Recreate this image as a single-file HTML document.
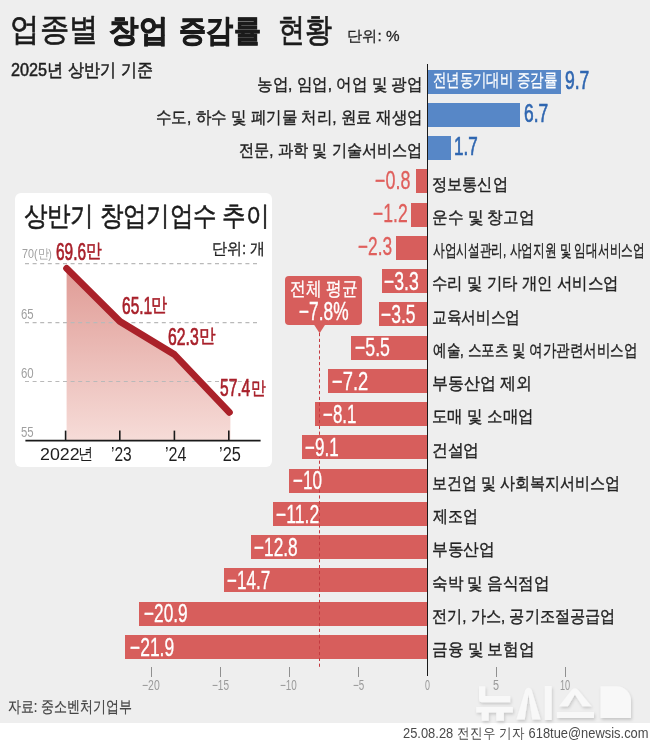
<!DOCTYPE html>
<html><head><meta charset="utf-8">
<style>
*{margin:0;padding:0;box-sizing:border-box}
html,body{width:650px;height:745px;background:#fff;overflow:hidden}
body{position:relative;font-family:"Liberation Sans",sans-serif}
.t{position:absolute;white-space:nowrap;line-height:1.2;transform-origin:0 0}
.bg{position:absolute;left:0;top:0;width:650px;height:722.6px;background:#eeeeee}
.bar{position:absolute;height:24px}
.axis{position:absolute;left:426.6px;top:64.2px;width:1.5px;height:612.3px;background:#1a1a1a}
.tick{position:absolute;top:667px;width:1px;height:9.5px;background:#8f8f8f}
.card{position:absolute;left:15px;top:193.4px;width:256.5px;height:274px;background:#fff;border-radius:6px}
.callout{position:absolute;left:284.8px;top:276.2px;width:76.9px;height:48.5px;background:#d75e5c;border-radius:4px}
svg{position:absolute;left:0;top:0}
</style></head><body>
<div class="bg"></div>
<div class="card"></div>
<svg width="650" height="745" viewBox="0 0 650 745">
  <defs>
    <linearGradient id="ag" x1="0" y1="263" x2="0" y2="441" gradientUnits="userSpaceOnUse">
      <stop offset="0" stop-color="#df9993"/>
      <stop offset="1" stop-color="#f6dcd8"/>
    </linearGradient>
  </defs>

  <polygon points="66.6,440.5 66.6,268.3 120.0,321.5 174.4,354.5 229.4,412.4 230.4,412.4 230.4,440.5" fill="url(#ag)"/>
  <g stroke="#b9b9b9" stroke-width="1.1" stroke-dasharray="4,3.6">
    <line x1="25" y1="263.6" x2="260.5" y2="263.6"/>
    <line x1="25" y1="322.6" x2="260.5" y2="322.6"/>
    <line x1="25" y1="381.5" x2="260.5" y2="381.5"/>
  </g>
  <polyline points="66.6,268.3 120.0,321.5 174.4,354.5 229.4,412.4" fill="none" stroke="#aa2129" stroke-width="6.8" stroke-linecap="round" stroke-linejoin="round"/>
  <line x1="25.4" y1="440.7" x2="260.6" y2="440.7" stroke="#1a1a1a" stroke-width="1.8"/>
  <g stroke="#1a1a1a" stroke-width="1.6">
    <line x1="65.6" y1="430.6" x2="65.6" y2="440"/>
    <line x1="119.8" y1="430.6" x2="119.8" y2="440"/>
    <line x1="174.4" y1="430.6" x2="174.4" y2="440"/>
    <line x1="228.8" y1="430.6" x2="228.8" y2="440"/>
  </g>
</svg>
<div class="bar" style="left:427.30px;top:69.60px;width:133.96px;background:#5787c7"></div>
<div class="bar" style="left:427.30px;top:102.85px;width:92.53px;background:#5787c7"></div>
<div class="bar" style="left:427.30px;top:136.10px;width:23.48px;background:#5787c7"></div>
<div class="bar" style="left:416.25px;top:169.35px;width:11.05px;background:#d75e5c"></div>
<div class="bar" style="left:410.73px;top:202.60px;width:16.57px;background:#d75e5c"></div>
<div class="bar" style="left:395.54px;top:235.85px;width:31.76px;background:#d75e5c"></div>
<div class="bar" style="left:381.73px;top:269.10px;width:45.57px;background:#d75e5c"></div>
<div class="bar" style="left:378.97px;top:302.35px;width:48.34px;background:#d75e5c"></div>
<div class="bar" style="left:351.35px;top:335.60px;width:75.95px;background:#d75e5c"></div>
<div class="bar" style="left:327.87px;top:368.85px;width:99.43px;background:#d75e5c"></div>
<div class="bar" style="left:315.44px;top:402.10px;width:111.86px;background:#d75e5c"></div>
<div class="bar" style="left:301.63px;top:435.35px;width:125.67px;background:#d75e5c"></div>
<div class="bar" style="left:289.20px;top:468.60px;width:138.10px;background:#d75e5c"></div>
<div class="bar" style="left:272.63px;top:501.85px;width:154.67px;background:#d75e5c"></div>
<div class="bar" style="left:250.53px;top:535.10px;width:176.77px;background:#d75e5c"></div>
<div class="bar" style="left:224.29px;top:568.35px;width:203.01px;background:#d75e5c"></div>
<div class="bar" style="left:138.67px;top:601.60px;width:288.63px;background:#d75e5c"></div>
<div class="bar" style="left:124.86px;top:634.85px;width:302.44px;background:#d75e5c"></div>
<div class="axis"></div>
<svg width="650" height="745" viewBox="0 0 650 745">
  <line x1="319.5" y1="333" x2="319.5" y2="669" stroke="#c43a40" stroke-width="1" stroke-dasharray="3.2,2.6"/>
</svg>
<div class="callout"></div>
<svg width="650" height="745" viewBox="0 0 650 745">
  <polygon points="313.6,324 325.6,324 319.6,333.2" fill="#d75e5c"/>
</svg>
<div class="tick" style="left:151px"></div>
<div class="tick" style="left:220px"></div>
<div class="tick" style="left:289px"></div>
<div class="tick" style="left:358px"></div>
<div class="tick" style="left:496px"></div>
<div class="tick" style="left:565px"></div>
<svg width="650" height="745" viewBox="0 0 650 745">
  <defs>
    <filter id="sh" x="-10%" y="-10%" width="130%" height="140%">
      <feGaussianBlur in="SourceAlpha" stdDeviation="1.4"/>
      <feOffset dx="0.5" dy="1.5" result="b"/>
      <feFlood flood-color="#000" flood-opacity="0.16"/>
      <feComposite in2="b" operator="in"/>
      <feMerge><feMergeNode/><feMergeNode in="SourceGraphic"/></feMerge>
    </filter>
  </defs>
  <g fill="#f8f8f8" filter="url(#sh)">
    <path d="M479,686.2 H485.2 V696 H510.2 V702.2 H482.2 A3.2,3.2 0 0 1 479,699 Z"/>
    <path d="M476.2,707 H512.9 V712.5 H503.9 V720.8 H496.3 V712.5 H488.7 V720.8 H481.8 V712.5 H476.2 Z"/>
    <path d="M516.4,719.5 L525.3,690 Q528.5,685.5 531.7,690 L540.6,719.5 H532.3 L528.5,694.5 L524.7,719.5 Z"/>
    <path d="M544.8,686 H551.7 V720 H544.8 Z"/>
    <path d="M559,706.3 L571.2,690.5 Q574.9,686 578.6,690.5 L591.5,706.3 H582.5 L574.9,694.5 L568,706.3 Z"/>
    <path d="M556.9,712.1 H594 V718.1 H556.9 Z"/>
    <path d="M600.5,686.2 H616.5 A14.5,14.5 0 0 1 631,700.7 V718.1 H600.5 Z"/>
  </g>
</svg>
<div class="t" style="left:9.98px;top:10.28px;font-size:34px;color:#1b1b1b;-webkit-text-stroke:0.7px #1b1b1b;transform:scale(0.8737,0.9531)">업종별</div>
<div class="t" style="left:108.82px;top:11.38px;font-size:34px;color:#1b1b1b;font-weight:bold;-webkit-text-stroke:0.9px #1b1b1b;transform:scale(0.8778,0.9242)">창업</div>
<div class="t" style="left:178.99px;top:11.38px;font-size:34px;color:#1b1b1b;font-weight:bold;-webkit-text-stroke:0.9px #1b1b1b;transform:scale(0.8060,0.9242)">증감률</div>
<div class="t" style="left:278.08px;top:10.10px;font-size:34px;color:#1b1b1b;-webkit-text-stroke:0.7px #1b1b1b;transform:scale(0.8076,0.9839)">현황</div>
<div class="t" style="left:346.68px;top:26.78px;font-size:15px;color:#222;-webkit-text-stroke:0.25px #222;transform:scale(1.0200,1.0077)">단위: %</div>
<div class="t" style="left:10.95px;top:60.49px;font-size:19px;color:#1e1e1e;-webkit-text-stroke:0.55px #1e1e1e;transform:scale(0.8533,0.9556)">2025년 상반기 기준</div>
<div class="t" style="left:256.84px;top:74.82px;font-size:18px;color:#222;-webkit-text-stroke:0.4px #222;transform:scale(0.8619,0.9412)">농업, 임업, 어업 및 광업</div>
<div class="t" style="left:565.00px;top:65.77px;font-size:22px;color:#2f66b0;-webkit-text-stroke:0.6px #2f66b0;transform:scale(0.7966,1.1467)">9.7</div>
<div class="t" style="left:155.64px;top:108.07px;font-size:18px;color:#222;-webkit-text-stroke:0.4px #222;transform:scale(0.8603,0.9412)">수도, 하수 및 폐기물 처리, 원료 재생업</div>
<div class="t" style="left:523.71px;top:99.02px;font-size:22px;color:#2f66b0;-webkit-text-stroke:0.6px #2f66b0;transform:scale(0.7897,1.1467)">6.7</div>
<div class="t" style="left:238.76px;top:141.32px;font-size:18px;color:#222;-webkit-text-stroke:0.4px #222;transform:scale(0.8419,0.9412)">전문, 과학 및 기술서비스업</div>
<div class="t" style="left:453.52px;top:132.27px;font-size:22px;color:#2f66b0;-webkit-text-stroke:0.6px #2f66b0;transform:scale(0.7759,1.1467)">1.7</div>
<div class="t" style="left:432.46px;top:174.57px;font-size:18px;color:#222;-webkit-text-stroke:0.4px #222;transform:scale(0.8414,0.9412)">정보통신업</div>
<div class="t" style="left:375.19px;top:165.82px;font-size:22px;color:#df5f5c;-webkit-text-stroke:0.3px #df5f5c;transform:scale(0.8143,1.1467)">−0.8</div>
<div class="t" style="left:432.43px;top:207.82px;font-size:18px;color:#222;-webkit-text-stroke:0.4px #222;transform:scale(0.8661,0.9412)">운수 및 창고업</div>
<div class="t" style="left:372.70px;top:199.07px;font-size:22px;color:#df5f5c;-webkit-text-stroke:0.3px #df5f5c;transform:scale(0.8000,1.1467)">−1.2</div>
<div class="t" style="left:432.65px;top:241.07px;font-size:18px;color:#222;-webkit-text-stroke:0.4px #222;transform:scale(0.6489,0.9412)">사업시설관리, 사업지원 및 임대서비스업</div>
<div class="t" style="left:358.41px;top:232.32px;font-size:22px;color:#df5f5c;-webkit-text-stroke:0.3px #df5f5c;transform:scale(0.7857,1.1467)">−2.3</div>
<div class="t" style="left:432.45px;top:274.32px;font-size:18px;color:#222;-webkit-text-stroke:0.4px #222;transform:scale(0.8544,0.9412)">수리 및 기타 개인 서비스업</div>
<div class="t" style="left:383.80px;top:266.77px;font-size:22px;color:#ffffff;-webkit-text-stroke:0.3px #fff;transform:scale(0.8000,1.1467)">−3.3</div>
<div class="t" style="left:432.48px;top:307.57px;font-size:18px;color:#222;-webkit-text-stroke:0.4px #222;transform:scale(0.8152,0.9412)">교육서비스업</div>
<div class="t" style="left:381.21px;top:300.02px;font-size:22px;color:#ffffff;-webkit-text-stroke:0.3px #fff;transform:scale(0.7929,1.1467)">−3.5</div>
<div class="t" style="left:432.55px;top:340.82px;font-size:18px;color:#222;-webkit-text-stroke:0.4px #222;transform:scale(0.7502,0.9412)">예술, 스포츠 및 여가관련서비스업</div>
<div class="t" style="left:355.00px;top:333.27px;font-size:22px;color:#ffffff;-webkit-text-stroke:0.3px #fff;transform:scale(0.8048,1.1467)">−5.5</div>
<div class="t" style="left:432.42px;top:374.07px;font-size:18px;color:#222;-webkit-text-stroke:0.4px #222;transform:scale(0.8836,0.9412)">부동산업 제외</div>
<div class="t" style="left:332.27px;top:366.52px;font-size:22px;color:#ffffff;-webkit-text-stroke:0.3px #fff;transform:scale(0.8341,1.1467)">−7.2</div>
<div class="t" style="left:432.44px;top:407.32px;font-size:18px;color:#222;-webkit-text-stroke:0.4px #222;transform:scale(0.8600,0.9412)">도매 및 소매업</div>
<div class="t" style="left:323.23px;top:399.77px;font-size:22px;color:#ffffff;-webkit-text-stroke:0.3px #fff;transform:scale(0.7707,1.1467)">−8.1</div>
<div class="t" style="left:431.55px;top:440.57px;font-size:18px;color:#222;-webkit-text-stroke:0.4px #222;transform:scale(0.8740,0.9412)">건설업</div>
<div class="t" style="left:305.42px;top:433.02px;font-size:22px;color:#ffffff;-webkit-text-stroke:0.3px #fff;transform:scale(0.7756,1.1467)">−9.1</div>
<div class="t" style="left:432.47px;top:473.82px;font-size:18px;color:#222;-webkit-text-stroke:0.4px #222;transform:scale(0.8336,0.9412)">보건업 및 사회복지서비스업</div>
<div class="t" style="left:293.22px;top:466.27px;font-size:22px;color:#ffffff;-webkit-text-stroke:0.3px #fff;transform:scale(0.7771,1.1467)">−10</div>
<div class="t" style="left:433.30px;top:507.07px;font-size:18px;color:#222;-webkit-text-stroke:0.4px #222;transform:scale(0.8288,0.9412)">제조업</div>
<div class="t" style="left:276.40px;top:499.52px;font-size:22px;color:#ffffff;-webkit-text-stroke:0.3px #fff;transform:scale(0.8000,1.1467)">−11.2</div>
<div class="t" style="left:432.43px;top:540.32px;font-size:18px;color:#222;-webkit-text-stroke:0.4px #222;transform:scale(0.8696,0.9412)">부동산업</div>
<div class="t" style="left:254.41px;top:532.77px;font-size:22px;color:#ffffff;-webkit-text-stroke:0.3px #fff;transform:scale(0.7852,1.1467)">−12.8</div>
<div class="t" style="left:432.44px;top:573.57px;font-size:18px;color:#222;-webkit-text-stroke:0.4px #222;transform:scale(0.8632,0.9412)">숙박 및 음식점업</div>
<div class="t" style="left:227.02px;top:566.02px;font-size:22px;color:#ffffff;-webkit-text-stroke:0.3px #fff;transform:scale(0.7778,1.1467)">−14.7</div>
<div class="t" style="left:432.46px;top:606.82px;font-size:18px;color:#222;-webkit-text-stroke:0.4px #222;transform:scale(0.8409,0.9412)">전기, 가스, 공기조절공급업</div>
<div class="t" style="left:143.81px;top:599.27px;font-size:22px;color:#ffffff;-webkit-text-stroke:0.3px #fff;transform:scale(0.7852,1.1467)">−20.9</div>
<div class="t" style="left:432.43px;top:640.07px;font-size:18px;color:#222;-webkit-text-stroke:0.4px #222;transform:scale(0.8661,0.9412)">금융 및 보험업</div>
<div class="t" style="left:129.81px;top:632.52px;font-size:22px;color:#ffffff;-webkit-text-stroke:0.3px #fff;transform:scale(0.7926,1.1467)">−21.9</div>
<div class="t" style="left:432.63px;top:70.15px;font-size:17px;color:#fff;-webkit-text-stroke:0.25px #fff;transform:scale(0.7857,1.0500)">전년동기대비 증감률</div>
<div class="t" style="left:289.93px;top:278.39px;font-size:17px;color:#fff;-webkit-text-stroke:0.3px #fff;transform:scale(0.9368,1.1357)">전체 평균</div>
<div class="t" style="left:298.58px;top:296.09px;font-size:21px;color:#fff;-webkit-text-stroke:0.35px #fff;transform:scale(0.8241,1.1857)">−7.8%</div>
<div class="t" style="left:142.30px;top:676.67px;font-size:13px;color:#9a9a9a;transform:scale(0.8048,1.1111)">−20</div>
<div class="t" style="left:211.53px;top:676.67px;font-size:13px;color:#9a9a9a;transform:scale(0.7714,1.1111)">−15</div>
<div class="t" style="left:280.24px;top:676.67px;font-size:13px;color:#9a9a9a;transform:scale(0.7619,1.1111)">−10</div>
<div class="t" style="left:352.85px;top:676.67px;font-size:13px;color:#9a9a9a;transform:scale(0.7538,1.1111)">−5</div>
<div class="t" style="left:425.00px;top:676.67px;font-size:13px;color:#9a9a9a;transform:scale(0.6857,1.1111)">0</div>
<div class="t" style="left:493.17px;top:676.67px;font-size:13px;color:#9a9a9a;transform:scale(0.8333,1.1111)">5</div>
<div class="t" style="left:560.49px;top:676.67px;font-size:13px;color:#9a9a9a;transform:scale(0.7077,1.1111)">10</div>
<div class="t" style="left:24.23px;top:199.57px;font-size:30px;color:#1b1b1b;-webkit-text-stroke:0.6px #1b1b1b;transform:scale(0.7731,0.8857)">상반기 창업기업수 추이</div>
<div class="t" style="left:212.06px;top:239.00px;font-size:16px;color:#222;-webkit-text-stroke:0.3px #222;transform:scale(0.9407,1.0000)">단위: 개</div>
<div class="t" style="left:21.83px;top:245.60px;font-size:14px;color:#a0a0a0;transform:scale(0.7676,0.9000)">70(만)</div>
<div class="t" style="left:21.19px;top:304.82px;font-size:14px;color:#a0a0a0;transform:scale(0.8143,1.0600)">65</div>
<div class="t" style="left:21.19px;top:363.82px;font-size:14px;color:#a0a0a0;transform:scale(0.8143,1.0600)">60</div>
<div class="t" style="left:21.19px;top:423.54px;font-size:14px;color:#a0a0a0;transform:scale(0.8143,1.0200)">55</div>
<div class="t" style="left:55.96px;top:236.79px;font-size:21px;color:#a8202a;-webkit-text-stroke:0.6px #a8202a;transform:scale(0.7359,1.1357)">69.6</div>
<div class="t" style="left:85.98px;top:239.36px;font-size:21px;color:#a8202a;-webkit-text-stroke:0.6px #a8202a;transform:scale(0.7579,0.9105)">만</div>
<div class="t" style="left:121.76px;top:291.33px;font-size:21px;color:#a8202a;-webkit-text-stroke:0.6px #a8202a;transform:scale(0.7385,1.1286)">65.1</div>
<div class="t" style="left:151.44px;top:293.14px;font-size:21px;color:#a8202a;-webkit-text-stroke:0.6px #a8202a;transform:scale(0.7789,0.9158)">만</div>
<div class="t" style="left:168.45px;top:321.63px;font-size:21px;color:#a8202a;-webkit-text-stroke:0.6px #a8202a;transform:scale(0.7513,1.1286)">62.3</div>
<div class="t" style="left:198.64px;top:324.44px;font-size:21px;color:#a8202a;-webkit-text-stroke:0.6px #a8202a;transform:scale(0.7789,0.8895)">만</div>
<div class="t" style="left:220.16px;top:374.07px;font-size:21px;color:#a8202a;-webkit-text-stroke:0.6px #a8202a;transform:scale(0.7400,1.1214)">57.4</div>
<div class="t" style="left:250.77px;top:376.93px;font-size:21px;color:#a8202a;-webkit-text-stroke:0.6px #a8202a;transform:scale(0.7158,0.8684)">만</div>
<div class="t" style="left:40.01px;top:445.92px;font-size:18px;color:#1e1e1e;transform:scale(0.9895,0.8923)">2022</div>
<div class="t" style="left:78.29px;top:445.20px;font-size:18px;color:#1e1e1e;transform:scale(0.8571,0.9000)">년</div>
<div class="t" style="left:111.14px;top:443.77px;font-size:18px;color:#1e1e1e;transform:scale(0.8636,1.0769)">’23</div>
<div class="t" style="left:165.10px;top:443.77px;font-size:18px;color:#1e1e1e;transform:scale(0.8957,1.0769)">’24</div>
<div class="t" style="left:219.09px;top:443.77px;font-size:18px;color:#1e1e1e;transform:scale(0.9091,1.0769)">’25</div>
<div class="t" style="left:8.34px;top:696.82px;font-size:15px;color:#444;-webkit-text-stroke:0.2px #444;transform:scale(0.8624,1.0615)">자료: 중소벤처기업부</div>
<div class="t" style="left:403.14px;top:725.12px;font-size:15px;color:#4a4a4a;transform:scale(0.8604,0.9615)">25.08.28 전진우 기자 618tue@newsis.com</div>
</body></html>
